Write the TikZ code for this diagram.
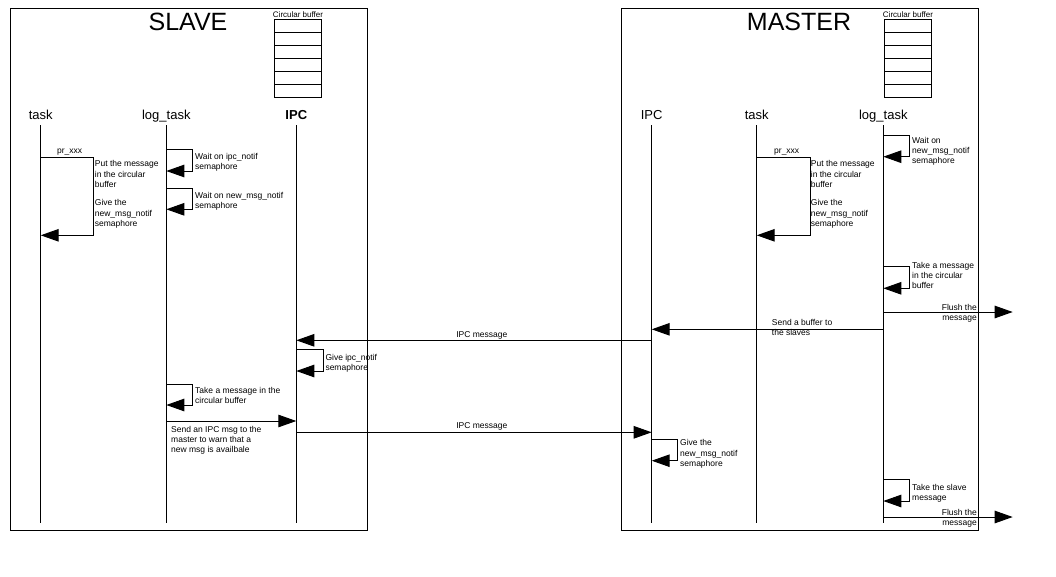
\documentclass[tikz,border=0pt]{standalone}
\usepackage{fontspec}
\setmainfont{Liberation Sans}
\usetikzlibrary{arrows.meta}

\tikzset{
  msg/.style={-{Triangle[length=18pt,width=12.5pt]}, line width=1pt},
  lifeline/.style={line width=1pt},
  note/.style={font=\fontsize{8.5}{10.2}\selectfont, align=left, inner sep=0pt, anchor=north west},
  actor/.style={font=\fontsize{13}{15}\selectfont, inner sep=0pt, anchor=base},
  sidetitle/.style={font=\fontsize{25}{28}\selectfont, inner sep=0pt, anchor=base},
  buftitle/.style={font=\fontsize{8}{9}\selectfont, inner sep=0pt, anchor=base}
}

\begin{document}
\begin{tikzpicture}[x=1pt, y=-1pt]
    \useasboundingbox (0,0) rectangle (1056,576);

    % the two sides
    \draw[line width=1pt] (10,8) rectangle (367,530);
    \draw[line width=1pt] (621,8) rectangle (978,530);
    \node[sidetitle] (slave) at (188,30.5) {SLAVE};
    \node[sidetitle] (master) at (799,30.5) {MASTER};

    % circular buffers
    \node[buftitle] (sbuf) at (298,17.5) {Circular buffer};
    \node[buftitle] (mbuf) at (908,17.5) {Circular buffer};
    \foreach \i in {0,...,5} {
        \draw[line width=1pt] (274,19.3+13*\i) rectangle +(47,13);
        \draw[line width=1pt] (884.3,19.3+13*\i) rectangle +(47.4,13);
    }

    % actors
    \node[actor] (stask) at (40.7,119) {task};
    \node[actor] (slog) at (166.3,119) {log\_task};
    \node[actor, font=\fontsize{13}{15}\selectfont\bfseries] (sipc) at (296.3,119) {IPC};
    \node[actor] (mipc) at (651.7,119) {IPC};
    \node[actor] (mtask) at (756.7,119) {task};
    \node[actor] (mlog) at (883.3,119) {log\_task};

    % lifelines
    \foreach \a in {stask,slog,sipc,mipc,mtask,mlog}
        \draw[lifeline] (\a |- 0,125) -- (\a |- 0,522.7);

    % slave side
    \node[actor, font=\fontsize{8.5}{10}\selectfont] (sprx) at (69.7,153.5) {pr\_xxx};
    \draw[msg] (stask |- 0,157.3) -| (93.3,235.3) -- (stask |- 0,235.3);
    \node[note] (sput) at (94.7,160.5) {Put the message\\in the circular\\buffer};
    \node[note] (sgive) at (94.7,199.5) {Give the\\new\_msg\_notif\\semaphore};

    \draw[msg] (slog |- 0,149.3) -| (192.3,171) -- (slog |- 0,171);
    \node[note] (swait1) at (195,153.3) {Wait on ipc\_notif\\semaphore};
    \draw[msg] (slog |- 0,188.3) -| (192.3,209.3) -- (slog |- 0,209.3);
    \node[note] (swait2) at (195,191.7) {Wait on new\_msg\_notif\\semaphore};

    \draw[msg] (sipc |- 0,349.3) -| (323.3,371) -- (sipc |- 0,371);
    \node[note] (sgiveipc) at (325.3,354) {Give ipc\_notif\\semaphore};

    \draw[msg] (slog |- 0,384.3) -| (192.3,405) -- (slog |- 0,405);
    \node[note] (stake) at (195,387.3) {Take a message in the\\circular buffer};

    \draw[msg] (slog |- 0,421) -- (sipc |- 0,421);
    \node[note] (ssend) at (171,425.7) {Send an IPC msg to the\\master to warn that a\\new msg is availbale};

    % between the sides
    \draw[msg] (mipc |- 0,340.3) -- (sipc |- 0,340.3);
    \node[actor, font=\fontsize{8.5}{10}\selectfont] (ipcdown) at (481.8,337) {IPC message};
    \draw[msg] (sipc |- 0,432.3) -- (mipc |- 0,432.3);
    \node[actor, font=\fontsize{8.5}{10}\selectfont] (ipcup) at (481.8,428.3) {IPC message};

    % master side
    \draw[msg] (mlog |- 0,135.7) -| (909.3,156.7) -- (mlog |- 0,156.7);
    \node[note] (mwait) at (912,136.7) {Wait on\\new\_msg\_notif\\semaphore};

    \node[actor, font=\fontsize{8.5}{10}\selectfont] (mprx) at (786.7,153.5) {pr\_xxx};
    \draw[msg] (mtask |- 0,157.3) -| (810,235.3) -- (mtask |- 0,235.3);
    \node[note] (mput) at (810.7,160.5) {Put the message\\in the circular\\buffer};
    \node[note] (mgive) at (810.7,199.5) {Give the\\new\_msg\_notif\\semaphore};

    \draw[msg] (mlog |- 0,266) -| (909.3,288.3) -- (mlog |- 0,288.3);
    \node[note] (mtake) at (912,262) {Take a message\\in the circular\\buffer};

    \coordinate (out1) at (1012.7,312);
    \draw[msg] (mlog |- out1) -- (out1);
    \node[note, anchor=north east, align=right] (mflush1) at (977,304.3) {Flush the\\message};

    \draw[msg] (mlog |- 0,329.3) -- (mipc |- 0,329.3);
    \node[note] (msend) at (771.7,319.3) {Send a buffer to\\the slaves};

    \draw[msg] (mipc |- 0,439.3) -| (677.3,460.7) -- (mipc |- 0,460.7);
    \node[note] (mgiveipc) at (680,439.5) {Give the\\new\_msg\_notif\\semaphore};

    \draw[msg] (mlog |- 0,479.3) -| (909.3,501) -- (mlog |- 0,501);
    \node[note] (mtakeslave) at (912,483.7) {Take the slave\\message};

    \coordinate (out2) at (1012.7,517);
    \draw[msg] (mlog |- out2) -- (out2);
    \node[note, anchor=north east, align=right] (mflush2) at (977,508.7) {Flush the\\message};
\end{tikzpicture}
\end{document}
